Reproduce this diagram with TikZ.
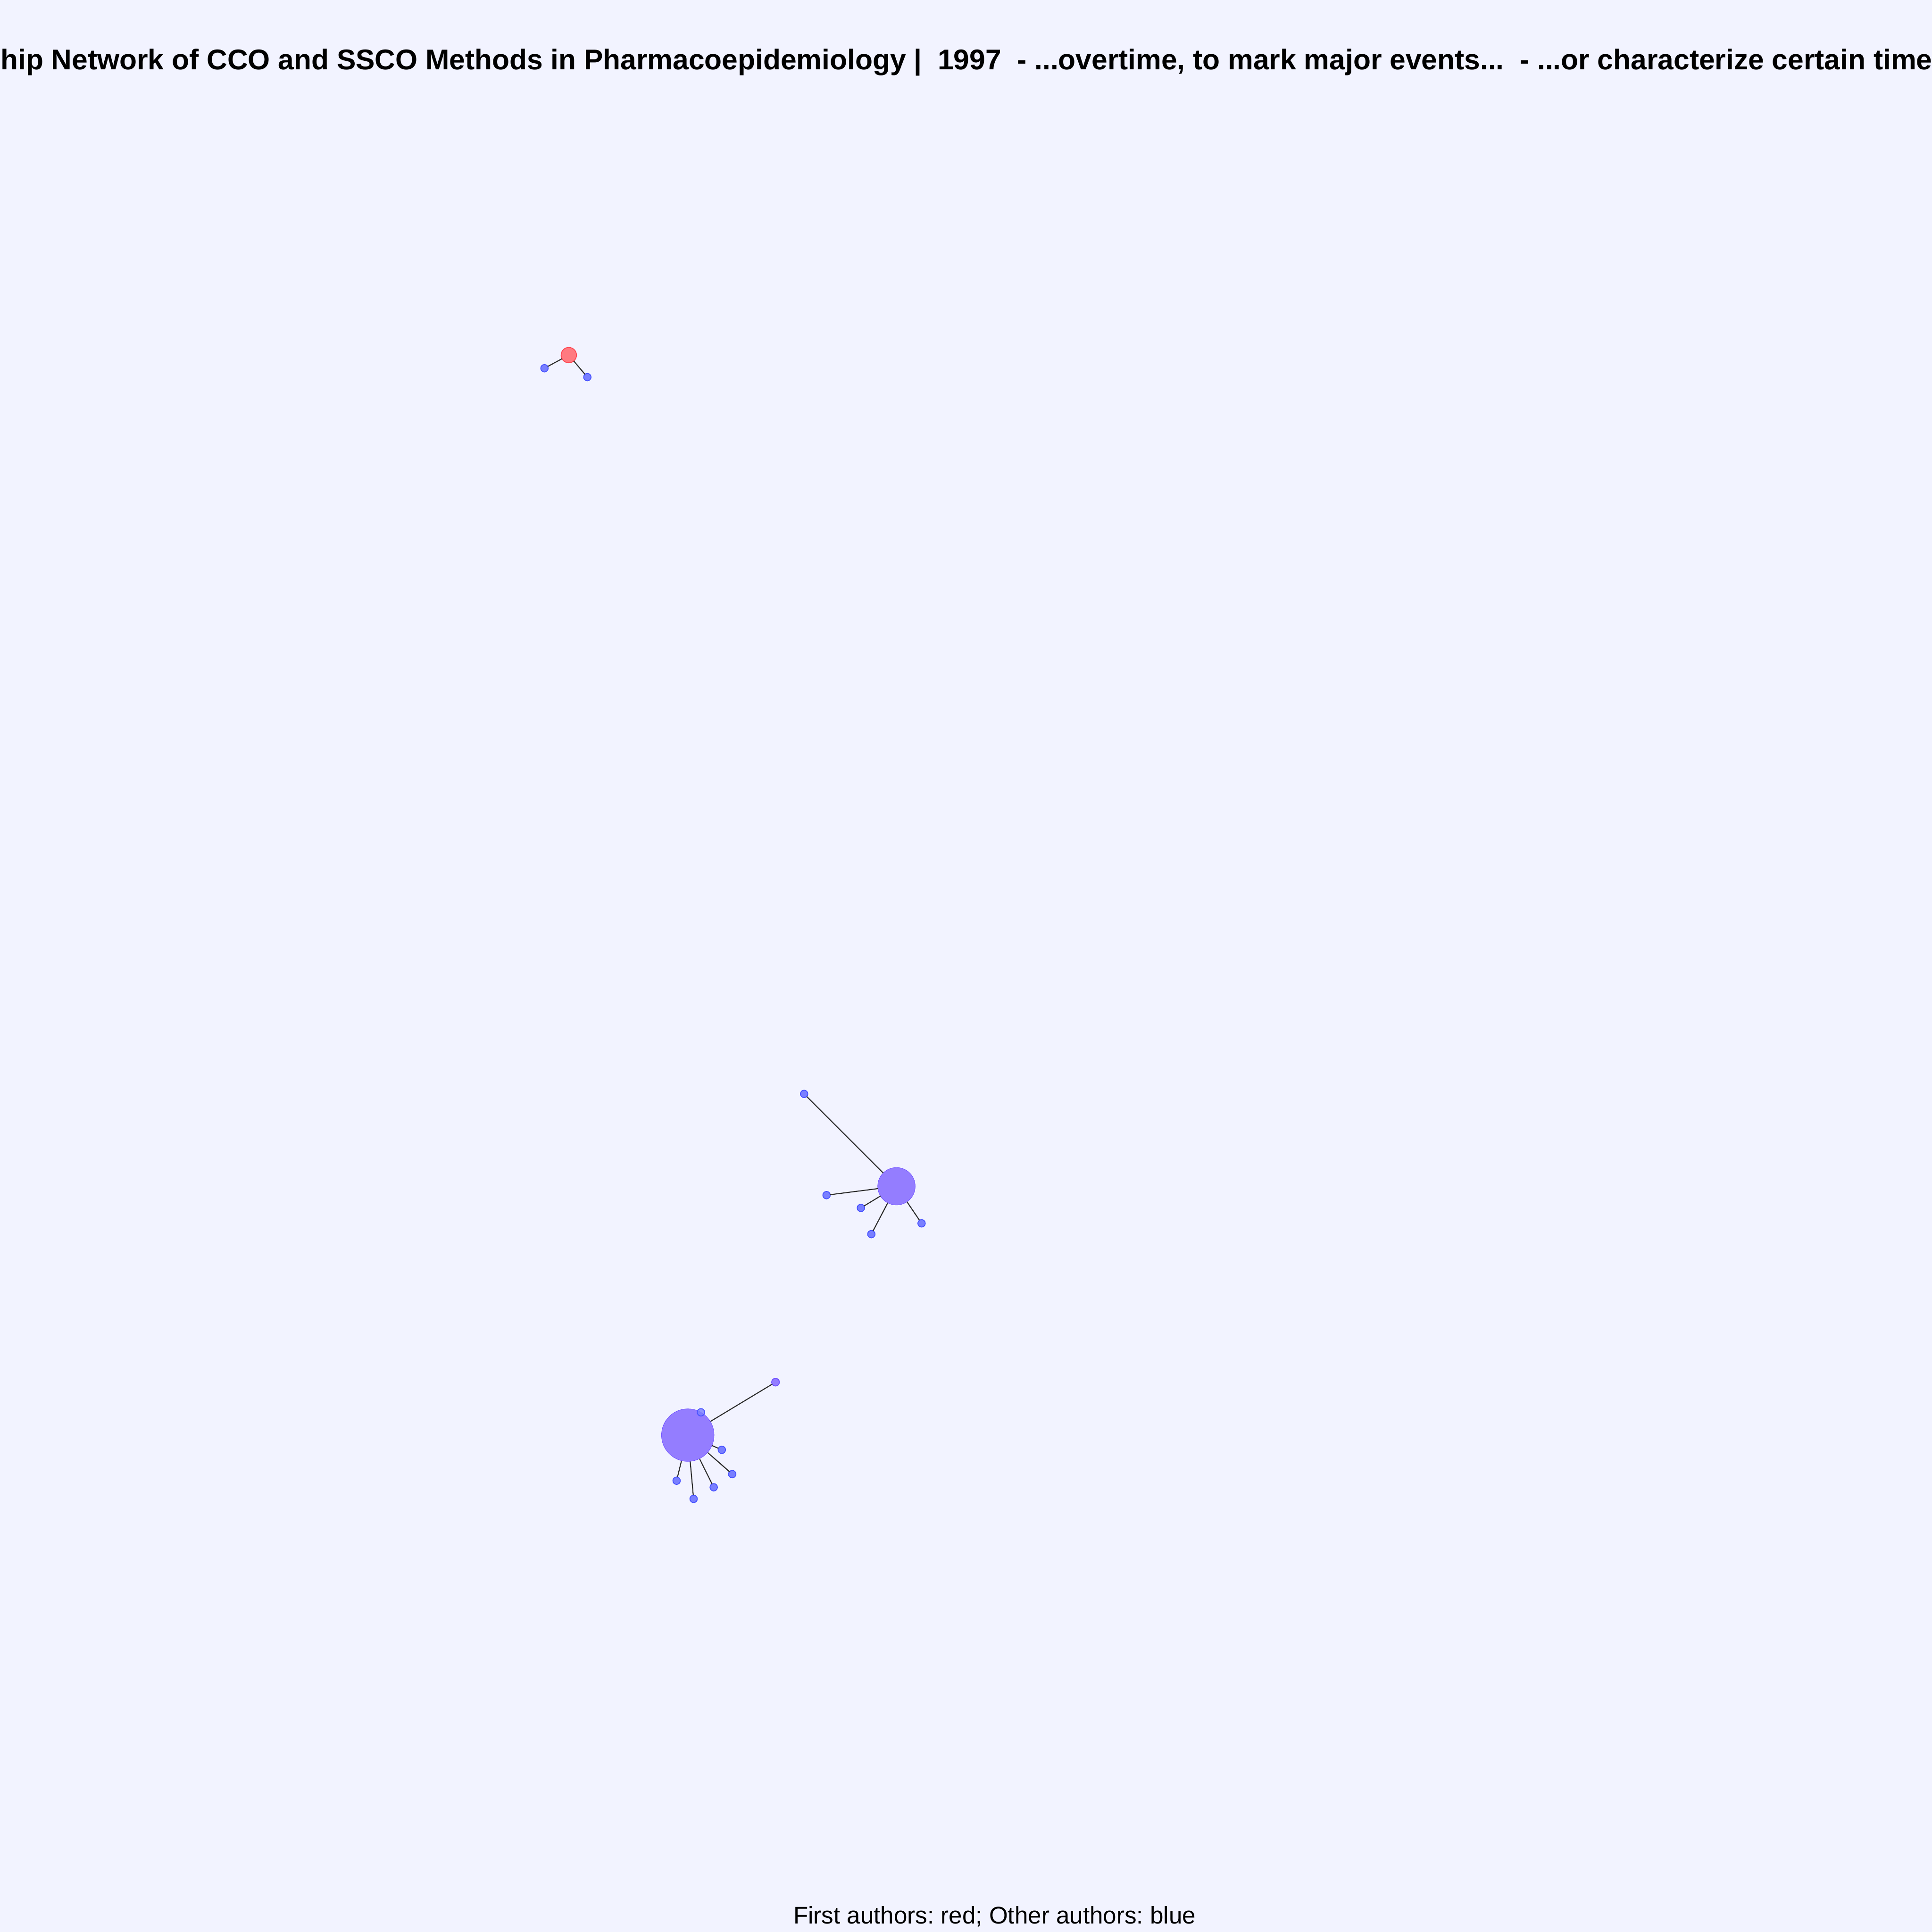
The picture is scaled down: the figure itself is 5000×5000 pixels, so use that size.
\documentclass[tikz,border=0pt]{standalone}
\usepackage{fontspec}
\setmainfont{Liberation Sans}
\usepackage{xcolor}
\usepackage{tikz}

\definecolor{bgcol}{RGB}{242,243,255}
\definecolor{edgecol}{RGB}{45,45,45}
\definecolor{othfill}{RGB}{121,127,255}
\definecolor{othline}{RGB}{72,82,255}
\definecolor{redfill}{RGB}{255,122,128}
\definecolor{redline}{RGB}{255,72,84}
\definecolor{hubfill}{RGB}{148,125,255}
\definecolor{hubline}{RGB}{112,82,255}

\begin{document}
\begin{tikzpicture}[x=0.004cm, y=-0.004cm,
  edge/.style={draw=edgecol, line width=0.3pt},
  author/.style={circle, inner sep=0pt, outer sep=0pt, line width=0.25pt},
  other/.style={author, fill=othfill, draw=othline, minimum size=0.077cm},
  first/.style={author, fill=redfill, draw=redline, minimum size=0.159cm},
  hub/.style={author, fill=hubfill, draw=hubline, line width=0.12pt}]

  \fill[bgcol] (0,0) rectangle (5000,5000);
  \useasboundingbox (0,0) rectangle (5000,5000);
  \clip (0,0) rectangle (5000,5000);

  % title and caption
  \node[anchor=base west, inner sep=0pt] (title) at (0,180)
    {\fontsize{8.4pt}{10pt}\selectfont\bfseries hip Network of CCO and SSCO Methods in Pharmacoepidemiology |\ \ 1997\ \ - ...overtime, to mark major events...\ \ - ...or characterize certain time};
  \node[anchor=base, inner sep=0pt] (caption) at (2574,4978)
    {\fontsize{7.1pt}{9pt}\selectfont\frenchspacing First authors: red; Other authors: blue};

  % top group
  \node[first] (r1) at (1472,919) {};
  \node[other] (r1a) at (1409,953) {};
  \node[other] (r1b) at (1520,976) {};
  \foreach \n in {r1a,r1b}
    \draw[edge] (r1) -- (\n);

  % middle group
  \node[other] (m1) at (2081,2831) {};
  \node[other] (m2) at (2139,3093) {};
  \node[other] (m3) at (2228,3126) {};
  \node[other] (m4) at (2255,3194) {};
  \node[other] (m5) at (2385,3166) {};
  \node[hub, minimum size=0.388cm] (mh) at (2320,3070) {};
  \foreach \n in {m1,m2,m3,m4,m5}
    \draw[edge] (mh) -- (\n);

  % bottom group
  \node[author, fill=hubfill, draw=hubline, minimum size=0.08cm] (b1) at (2007,3577) {};
  \node[other] (b3) at (1868,3752) {};
  \node[other] (b4) at (1895,3815) {};
  \node[other] (b5) at (1847,3849) {};
  \node[other] (b6) at (1795,3879) {};
  \node[other] (b7) at (1751,3832) {};
  \coordinate (bc) at (1780,3714);
  \foreach \n in {b1,b3,b4,b5,b6,b7}
    \draw[edge] (bc) -- (\n);
  \draw[edge] (bc) -- (1814,3655);
  \node[hub, minimum size=0.544cm] (bh) at (bc) {};
  \node[other, fill opacity=0.8] (b2) at (1814,3655) {};
\end{tikzpicture}
\end{document}
